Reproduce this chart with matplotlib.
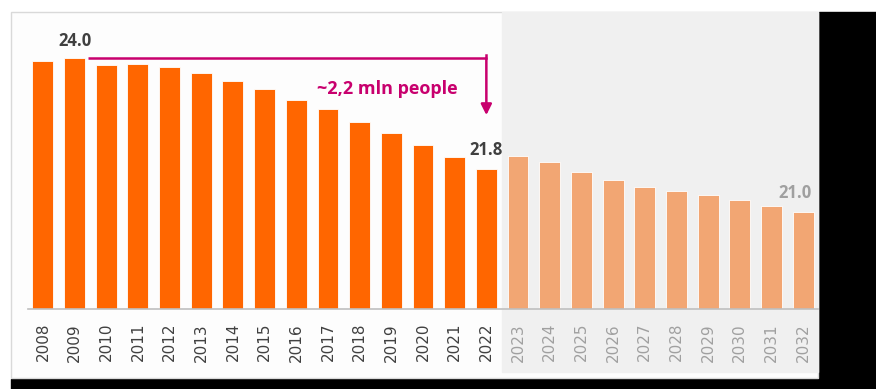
import numpy as np
import matplotlib.pyplot as plt
import matplotlib.patches as mpatches
from matplotlib.transforms import blended_transform_factory

years = list(range(2008, 2033))
values = [23.95, 24.0, 23.87, 23.89, 23.82, 23.72, 23.56, 23.39, 23.19, 23.0,
          22.76, 22.54, 22.31, 22.07, 21.84, 22.09, 21.97, 21.78, 21.62, 21.49,
          21.41, 21.33, 21.24, 21.12, 21.0]
n_actual = 15  # 2008-2022 actual, rest forecast
labelled = {1: "24.0", 14: "21.8", 24: "21.0"}
drop_text = "~2,2 mln people"

orange = "#FF6600"
light_orange = "#F2A673"
magenta = "#C8006E"
dark = "#404040"
grey_txt = "#A0A0A0"

W, H = 876, 389
fig = plt.figure(figsize=(W / 100, H / 100), dpi=100)
fig.patch.set_facecolor("white")

# shadow + frame (px -> figure fraction)
def fr(x0, y0, x1, y1):
    return (x0 / W, 1 - y1 / H), (x1 - x0) / W, (y1 - y0) / H

for (x0, y0, x1, y1) in [(819, 12, 876, 389), (11, 379, 876, 389)]:
    xy, w, h = fr(x0, y0, x1, y1)
    fig.patches.append(mpatches.Rectangle(xy, w, h, transform=fig.transFigure,
                                          color="black", zorder=-2))
xy, w, h = fr(11, 12, 818, 378)
fig.patches.append(mpatches.Rectangle(xy, w, h, transform=fig.transFigure,
                                      facecolor="#FDFDFD", edgecolor="#D9D9D9",
                                      lw=1, zorder=-2))

ax = fig.add_axes([28 / W, 1 - 309 / H, 790 / W, 297 / H])
ax.set_zorder(1)
ax.set_facecolor("none")
x = np.arange(len(years))
ax.set_xlim(-0.47, len(years) - 0.53)
ax.set_ylim(19.11, 24.9)

# forecast shading, reaching beyond the axes vertically
trans = blended_transform_factory(ax.transData, fig.transFigure)
ax.add_patch(mpatches.Rectangle((n_actual - 0.5, 1 - 372 / H),
                                len(years) - 0.53 - (n_actual - 0.5), (372 - 12) / H,
                                transform=trans, color="#F0F0F0", zorder=0,
                                clip_on=False))

colors = [orange if i < n_actual else light_orange for i in range(len(years))]
ax.bar(x, values, width=0.66, color=colors, edgecolor="white", linewidth=0.6,
       zorder=2)

for i, txt in labelled.items():
    c = grey_txt if i >= n_actual else dark
    dx = -6 if i == len(years) - 1 else 0
    dy = 6 if i == 1 else 7
    ax.annotate(txt, (x[i], values[i]), xytext=(dx, dy), textcoords="offset points",
                ha="center", va="bottom", fontsize=12, fontweight="bold",
                color=c, family="Open Sans", zorder=4)

# drop arrow from 2009 level to 2022
top = values[1]
ax.plot([x[1] + 0.42, x[n_actual - 1]], [top, top], color=magenta, lw=1.8,
        zorder=3, solid_capstyle="butt")
ax.plot([x[n_actual - 1]] * 2, [top + 0.06, top], color=magenta, lw=1.8, zorder=3)
ax.annotate("", xy=(x[n_actual - 1], 22.89), xytext=(x[n_actual - 1], top),
            arrowprops=dict(arrowstyle="-|>", color=magenta, lw=1.8,
                            mutation_scale=16, shrinkA=0, shrinkB=0), zorder=3)
ax.text(x[n_actual - 1] - 0.9, 23.4, drop_text, ha="right", va="center",
        fontsize=13, fontweight="bold", color=magenta, family="Open Sans")

for s in ["left", "right", "top"]:
    ax.spines[s].set_visible(False)
ax.spines["bottom"].set_color("#BFBFBF")
ax.spines["bottom"].set_linewidth(1.2)
ax.set_yticks([])
ax.set_xticks(x)
ax.set_xticklabels([str(y) for y in years], rotation=90, fontsize=11)
ax.tick_params(axis="x", length=0, pad=10)
for i, lab in enumerate(ax.get_xticklabels()):
    lab.set_color(dark if i < n_actual else grey_txt)

fig.savefig("out.png", dpi=100)
